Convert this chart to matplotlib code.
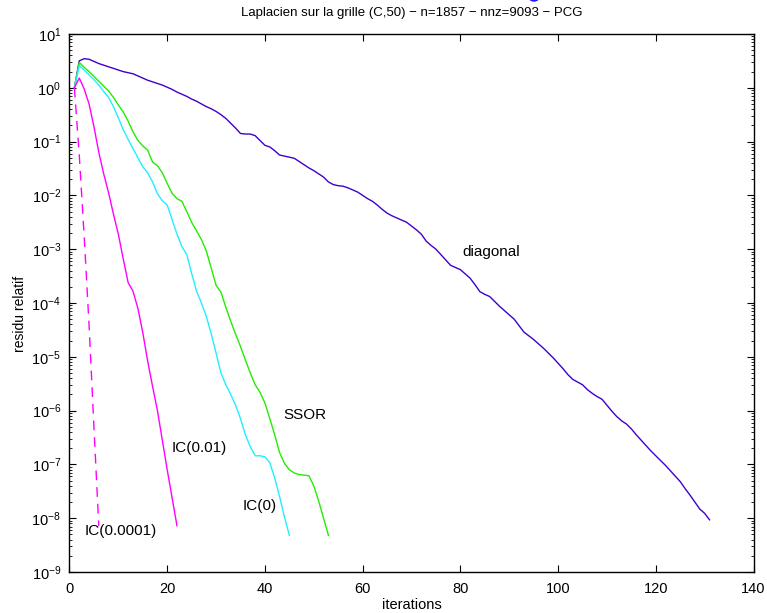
"""
Convergence PCG : Laplacien sur la grille (C,50)
"""

import numpy as np
import matplotlib
matplotlib.use('Agg')
import matplotlib.pyplot as plt
from matplotlib.ticker import LogLocator, NullFormatter
from matplotlib.patches import Ellipse

plt.rcParams['font.family'] = ['Liberation Sans', 'DejaVu Sans']

# log10 du residu relatif, une valeur par iteration (a partir de 1)
diag_log10 = [
    0.00, 0.50, 0.54, 0.53, 0.49, 0.45, 0.42, 0.39, 0.36, 0.33,
    0.30, 0.28, 0.26, 0.22, 0.18, 0.14, 0.11, 0.08, 0.05, 0.01,
    -0.03, -0.08, -0.12, -0.16, -0.21, -0.25, -0.30, -0.35, -0.39, -0.44,
    -0.50, -0.57, -0.66, -0.75, -0.85, -0.86, -0.86, -0.89, -0.98, -1.07,
    -1.10, -1.17, -1.25, -1.27, -1.29, -1.31, -1.37, -1.43, -1.49, -1.54,
    -1.60, -1.66, -1.75, -1.80, -1.82, -1.83, -1.86, -1.90, -1.94, -2.00,
    -2.06, -2.11, -2.18, -2.26, -2.33, -2.38, -2.42, -2.46, -2.50, -2.57,
    -2.64, -2.72, -2.85, -2.93, -3.00, -3.10, -3.20, -3.30, -3.34, -3.38,
    -3.46, -3.54, -3.66, -3.79, -3.84, -3.88, -3.97, -4.06, -4.14, -4.22,
    -4.30, -4.42, -4.54, -4.61, -4.68, -4.76, -4.84, -4.93, -5.02, -5.12,
    -5.22, -5.33, -5.42, -5.47, -5.52, -5.61, -5.68, -5.74, -5.79, -5.90,
    -6.01, -6.11, -6.19, -6.25, -6.34, -6.45, -6.55, -6.65, -6.75, -6.84,
    -6.93, -7.02, -7.12, -7.22, -7.32, -7.45, -7.57, -7.70, -7.83, -7.91,
    -8.03,
]

ssor_log10 = [
    0.00, 0.47, 0.38, 0.30, 0.21, 0.12, 0.03, -0.06, -0.18, -0.32,
    -0.45, -0.62, -0.82, -0.98, -1.08, -1.16, -1.38, -1.45, -1.58, -1.78,
    -1.96, -2.06, -2.11, -2.30, -2.50, -2.66, -2.82, -3.03, -3.35, -3.67,
    -3.80, -4.08, -4.34, -4.58, -4.81, -5.06, -5.30, -5.52, -5.66, -5.86,
    -6.15, -6.45, -6.78, -6.98, -7.10, -7.16, -7.19, -7.20, -7.21, -7.40,
    -7.68, -8.00, -8.32,
]

ic0_log10 = [
    0.00, 0.41, 0.33, 0.24, 0.15, 0.05, -0.07, -0.18, -0.35, -0.56,
    -0.78, -0.96, -1.13, -1.30, -1.47, -1.58, -1.75, -1.97, -2.10, -2.18,
    -2.45, -2.72, -2.95, -3.10, -3.45, -3.78, -4.00, -4.25, -4.57, -4.93,
    -5.30, -5.52, -5.70, -5.90, -6.15, -6.45, -6.67, -6.84, -6.84, -6.86,
    -6.97, -7.25, -7.60, -7.98, -8.32,
]

ic001_log10 = [
    0.00, 0.18, -0.02, -0.30, -0.72, -1.20, -1.60, -1.95, -2.35, -2.72,
    -3.18, -3.62, -3.78, -4.10, -4.55, -5.08, -5.55, -6.00, -6.55, -7.10,
    -7.62, -8.14,
]

ic00001_log10 = [0.00, -1.25, -2.75, -4.40, -6.30, -8.15]

# etiquettes des courbes : (texte, iteration, log10 residu)
curve_labels = [
    ('diagonal', 80.5, -3.05),
    ('SSOR', 43.8, -6.08),
    ('IC(0.01)', 21.0, -6.70),
    ('IC(0)', 35.5, -7.77),
    ('IC(0.0001)', 3.1, -8.23),
]

title = 'Laplacien sur la grille (C,50) \u2212 n=1857 \u2212 nnz=9093 \u2212 PCG'


def plot_series(ax, vals, **kw):
    it = np.arange(1, len(vals) + 1)
    ax.semilogy(it, 10.0 ** np.asarray(vals), **kw)


fig = plt.figure(figsize=(7.67, 6.13), dpi=100)
ax = fig.add_axes([0.0906, 0.0669, 0.8918, 0.8777])

plot_series(ax, diag_log10, color='#3f00cc', lw=1.0)
plot_series(ax, ssor_log10, color='#22ee00', lw=1.0)
plot_series(ax, ic0_log10, color='#22eeff', lw=1.0)
plot_series(ax, ic001_log10, color='#ff00ff', lw=1.0)
plot_series(ax, ic00001_log10, color='#ff00ff', lw=1.0, dashes=(7, 5))

for txt, x, y in curve_labels:
    ax.text(x, 10.0 ** y, txt, fontsize=11, ha='left', va='center')

ax.set_xlim(0, 140)
ax.set_ylim(1e-9, 1e1)
ax.set_xticks(range(0, 141, 20))
ax.yaxis.set_major_locator(LogLocator(base=10, numticks=20))
ax.yaxis.set_minor_locator(LogLocator(base=10, subs=np.arange(2, 10), numticks=200))
ax.yaxis.set_minor_formatter(NullFormatter())

ax.tick_params(which='both', direction='in', top=True, right=True, labelsize=10.5)
ax.tick_params(which='major', length=5, width=0.8)
ax.tick_params(axis='x', which='major', pad=7)
ax.tick_params(axis='y', which='major', pad=6)
ax.tick_params(which='minor', length=2.5, width=0.6)
for s in ax.spines.values():
    s.set_linewidth(1.0)

ax.set_xlabel('iterations', fontsize=10.5, labelpad=2)
ax.set_ylabel('residu relatif', fontsize=10)
ax.yaxis.set_label_coords(-0.062, 0.48)
ax.set_title(title, fontsize=9.5, pad=13)

# petit artefact bleu en haut de l'image
fig.add_artist(Ellipse((534 / 767, 618 / 613), 12 / 767, 12 / 613,
                       transform=fig.transFigure, color='#1a1aff'))

fig.savefig('out.png', dpi=100)
